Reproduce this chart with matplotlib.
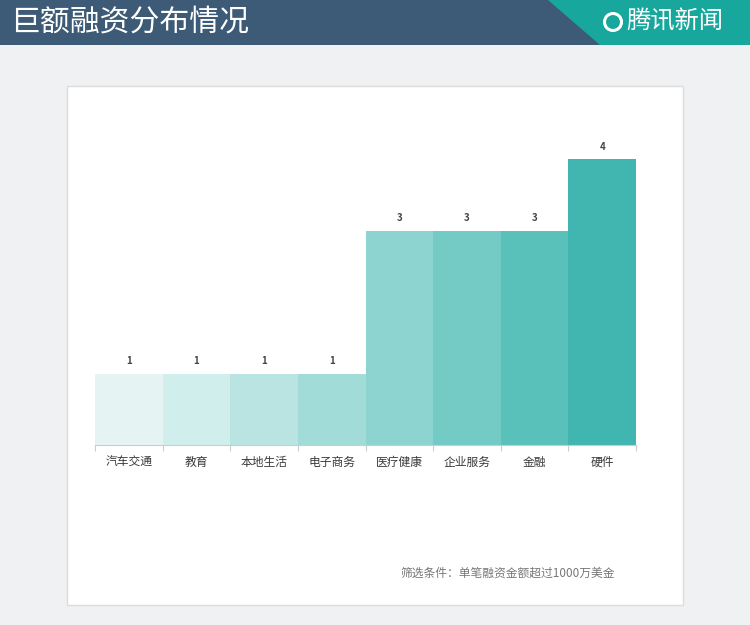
import matplotlib
matplotlib.use("Agg")
import matplotlib.pyplot as plt
from matplotlib.patches import Rectangle, Polygon, Ellipse

plt.rcParams['font.family'] = ['Noto Sans CJK SC', 'DejaVu Sans']

categories = ["汽车交通", "教育", "本地生活", "电子商务", "医疗健康", "企业服务", "金融", "硬件"]
values = [1, 1, 1, 1, 3, 3, 3, 4]
colors = ["#e5f4f3", "#d0eeec", "#b9e4e2", "#a2dcd8", "#8dd4d0", "#74cac5", "#5ac0ba", "#41b6b0"]
title = "巨额融资分布情况"
brand = "腾讯新闻"
footnote = "筛选条件：单笔融资金额超过1000万美金"

W, H = 750, 625
fig = plt.figure(figsize=(W/100, H/100), dpi=100)
fig.patch.set_facecolor("#f0f1f3")

def fx(x): return x / W
def fy(y): return 1 - y / H

# header
fig.patches.append(Rectangle((0, fy(45)), 1, 45/H, transform=fig.transFigure,
                             facecolor="#3d5a76", edgecolor="none", zorder=-2))
fig.patches.append(Polygon([(fx(548), fy(0)), (fx(750), fy(0)), (fx(750), fy(45)), (fx(600), fy(45))],
                           closed=True, transform=fig.transFigure, facecolor="#17a79c",
                           edgecolor="none", zorder=-1))
fig.text(fx(10), fy(22), title, color="white", fontsize=21.5, va="center", ha="left")
fig.patches.append(Ellipse((fx(613), fy(22)), 17/W, 17/H, transform=fig.transFigure,
                           facecolor="none", edgecolor="white", linewidth=2.2, zorder=3))
fig.text(fx(626), fy(22), brand, color="white", fontsize=17.5, va="center", ha="left",
         style="italic")

# white panel
fig.patches.append(Rectangle((fx(67), fy(605)), (683-67)/W, (605-86)/H, transform=fig.transFigure,
                             facecolor="white", edgecolor="#dcdcdc", linewidth=1, zorder=-2))

# axes
base_px, unit_px = 445, 71.5
ymax = 4.5
top_px = base_px - ymax * unit_px
ax = fig.add_axes([fx(95), fy(base_px), (636-95)/W, (base_px-top_px)/H])
ax.set_zorder(2)
ax.set_facecolor("none")
x = list(range(len(categories)))
bars = ax.bar(x, values, width=1.0, color=colors, edgecolor="none")
ax.set_xlim(-0.5, len(categories) - 0.5)
ax.set_ylim(0, ymax)
for xi, v in zip(x, values):
    ax.text(xi, v + 0.1, str(v), ha="center", va="bottom", fontsize=7,
            color="#444444", fontweight="bold")
for s in ["top", "right", "left"]:
    ax.spines[s].set_visible(False)
ax.spines["bottom"].set_color("#cccccc")
ax.set_yticks([])
ax.set_xticks([i - 0.5 for i in range(len(categories) + 1)], minor=False)
ax.set_xticklabels([])
ax.tick_params(axis="x", length=4, color="#cccccc")
ax.set_xticks(x, minor=True)
ax.set_xticklabels(categories, minor=True, fontweight="medium")
for lbl in ax.get_xticklabels(minor=True):
    lbl.set_verticalalignment("baseline")
ax.tick_params(axis="x", which="minor", length=0, pad=15, labelsize=8.5, labelcolor="#3a3a3a")

fig.text(fx(400), fy(573), footnote, fontsize=8.5, color="#777777", va="center", ha="left")

fig.savefig("out.png", dpi=100, facecolor=fig.get_facecolor())
